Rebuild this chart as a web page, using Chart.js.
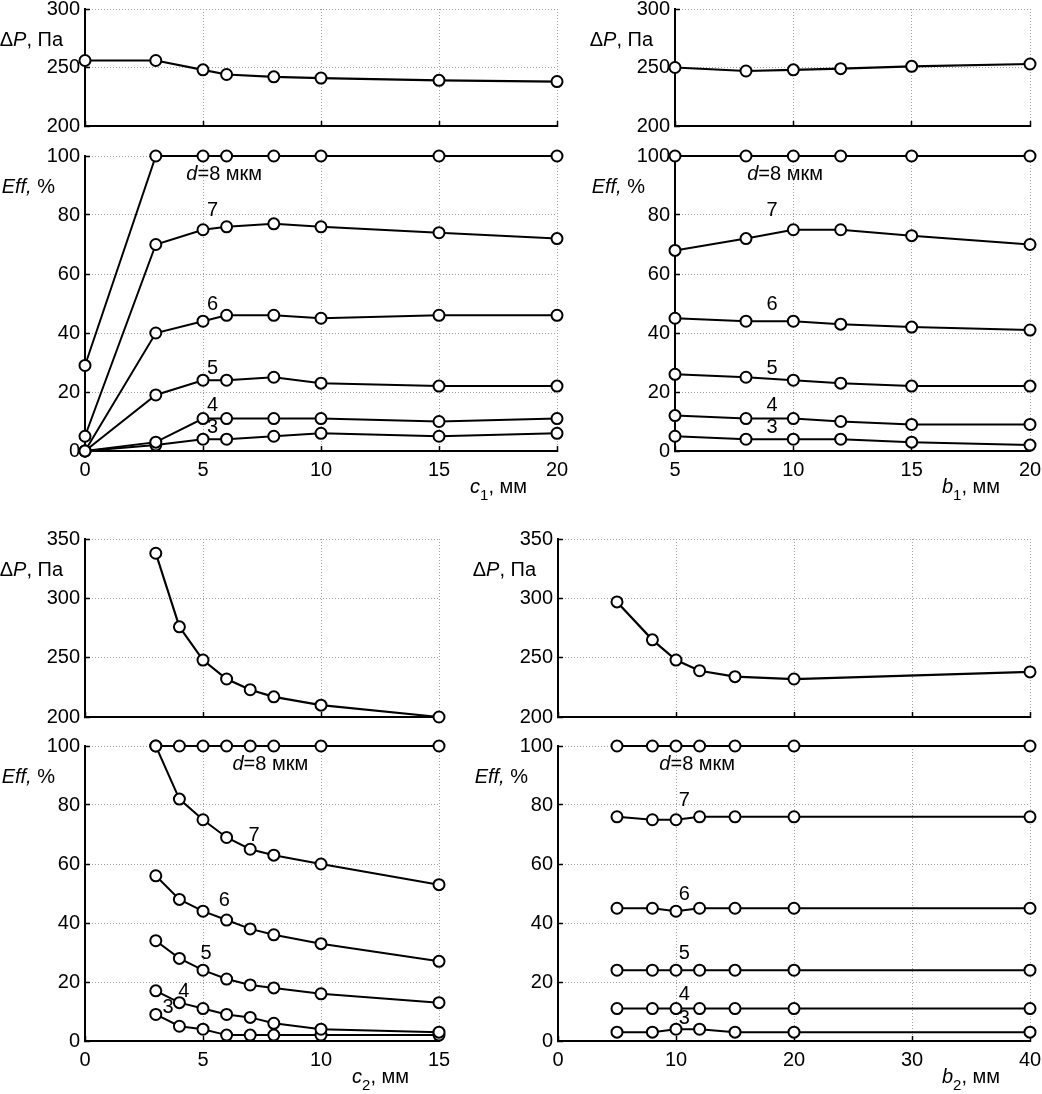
<!DOCTYPE html>
<html>
<head>
<meta charset="utf-8">
<script src="https://cdn.jsdelivr.net/npm/chart.js@4.4.1/dist/chart.umd.min.js"></script>
<style>
  html, body { margin: 0; padding: 0; background: #fff; }
  body { position: relative; width: 1042px; height: 1094px; overflow: hidden; }
  canvas { position: absolute; }
</style>
</head>
<body>
<canvas id="dp1"></canvas>
<canvas id="eff1"></canvas>
<canvas id="dp2"></canvas>
<canvas id="eff2"></canvas>
<canvas id="dp3"></canvas>
<canvas id="eff3"></canvas>
<canvas id="dp4"></canvas>
<canvas id="eff4"></canvas>
<script>
// --- data ---
const sizes = [8, 7, 6, 5, 4, 3];   // particle size d, мкм (one Eff curve each)

const c1 = [0, 3, 5, 6, 8, 10, 15, 20];
const dpC1 = [256, 256, 248, 244, 242, 241, 239, 238];
const effC1_8 = [29, 100, 100, 100, 100, 100, 100, 100];
const effC1_7 = [5, 70, 75, 76, 77, 76, 74, 72];
const effC1_6 = [0, 40, 44, 46, 46, 45, 46, 46];
const effC1_5 = [0, 19, 24, 24, 25, 23, 22, 22];
const effC1_4 = [0, 3, 11, 11, 11, 11, 10, 11];
const effC1_3 = [0, 2, 4, 4, 5, 6, 5, 6];

const b1 = [5, 8, 10, 12, 15, 20];
const dpB1 = [250, 247, 248, 249, 251, 253];
const effB1_8 = [100, 100, 100, 100, 100, 100];
const effB1_7 = [68, 72, 75, 75, 73, 70];
const effB1_6 = [45, 44, 44, 43, 42, 41];
const effB1_5 = [26, 25, 24, 23, 22, 22];
const effB1_4 = [12, 11, 11, 10, 9, 9];
const effB1_3 = [5, 4, 4, 4, 3, 2];

const c2 = [3, 4, 5, 6, 7, 8, 10, 15];
const dpC2 = [338, 276, 248, 232, 223, 217, 210, 200];
const effC2_8 = [100, 100, 100, 100, 100, 100, 100, 100];
const effC2_7 = [100, 82, 75, 69, 65, 63, 60, 53];
const effC2_6 = [56, 48, 44, 41, 38, 36, 33, 27];
const effC2_5 = [34, 28, 24, 21, 19, 18, 16, 13];
const effC2_4 = [17, 13, 11, 9, 8, 6, 4, 3];
const effC2_3 = [9, 5, 4, 2, 2, 2, 2, 2];

const b2 = [5, 8, 10, 12, 15, 20, 40];
const dpB2 = [297, 265, 248, 239, 234, 232, 238];
const effB2_8 = [100, 100, 100, 100, 100, 100, 100];
const effB2_7 = [76, 75, 75, 76, 76, 76, 76];
const effB2_6 = [45, 45, 44, 45, 45, 45, 45];
const effB2_5 = [24, 24, 24, 24, 24, 24, 24];
const effB2_4 = [11, 11, 11, 11, 11, 11, 11];
const effB2_3 = [3, 3, 4, 4, 3, 3, 3];

// tick labels
const ticksC1 = [0, 5, 10, 15, 20];
const ticksB1 = [5, 10, 15, 20];
const ticksC2 = [0, 5, 10, 15];
const ticksB2 = [0, 10, 20, 30, 40];
const ticksDpTop = [200, 250, 300];
const ticksDpBottom = [200, 250, 300, 350];
const ticksEff = [0, 20, 40, 60, 80, 100];

// --- layout ---
const FONT = '"Liberation Sans", Arial, sans-serif';
const FS = 20;
// y tick labels need ~22px above/below the plot area, so keep the margins bigger than that
const PAD_T = 26, PAD_R = 24, Y_W = 92;

// rich text: segments {t, it, sub}
function drawRich(ctx, segs, x, y, align) {
  const fontOf = s => (s.it ? 'italic ' : '') + (s.sub ? 15 : FS) + 'px ' + FONT;
  const widths = segs.map(s => { ctx.font = fontOf(s); return ctx.measureText(s.t).width; });
  const w = widths.reduce((a, b) => a + b, 0);
  let cx = align === 'right' ? x - w : x - w / 2;
  ctx.save();
  ctx.fillStyle = '#000';
  ctx.textBaseline = 'middle';
  ctx.textAlign = 'left';
  segs.forEach((s, i) => {
    ctx.font = fontOf(s);
    ctx.fillText(s.t, cx, y + (s.sub ? 9 : 0));
    cx += widths[i];
  });
  ctx.restore();
}

// inline plugin per chart, so the label list is not run through option resolution
function textPlugin(items) {
  return {
    id: 'richText',
    afterDraw(chart) {
      const { ctx, chartArea, scales } = chart;
      items.forEach(it => {
        let x, y;
        if (it.at) {
          x = scales.x.getPixelForValue(it.at[0]);
          y = scales.y.getPixelForValue(it.at[1]);
        } else if (it.anchor === 'y') {
          x = chartArea.left - it.dx; y = chartArea.top + it.dy;
        } else {
          x = chartArea.right - it.dx; y = chartArea.bottom + it.dy;
        }
        drawRich(ctx, it.segs, x, y, it.align || 'center');
      });
    }
  };
}

const dpTitle = { anchor: 'y', dx: 22, dy: 31, align: 'right', segs: [{ t: 'Δ' }, { t: 'P', it: true }, { t: ', Па' }] };
const effTitle = { anchor: 'y', dx: 30, dy: 31, align: 'right', segs: [{ t: 'Eff,', it: true }, { t: ' %' }] };
const xTitle = (letter, idx) => ({ anchor: 'x', dx: 30, dy: 36, align: 'right',
  segs: [{ t: letter, it: true }, { t: idx, sub: true }, { t: ', мм' }] });

function curveLabels(pos) {
  return sizes.map((d, i) => ({
    at: pos[i],
    segs: i === 0 ? [{ t: 'd', it: true }, { t: '=' + d + ' мкм' }] : [{ t: String(d) }]
  }));
}

function axis(ticks, showLabels) {
  return {
    type: 'linear',
    min: ticks[0],
    max: ticks[ticks.length - 1],
    afterBuildTicks: s => { s.ticks = ticks.map(v => ({ value: v })); },
    grid: { color: '#a0a0a0', lineWidth: 1, drawTicks: true, tickLength: -5, tickColor: '#000', tickWidth: 1.5 },
    border: { display: true, color: '#000', width: 2, dash: [1, 2] },
    ticks: { display: showLabels, color: '#000', font: { family: FONT, size: FS }, padding: 12, maxRotation: 0, autoSkip: false }
  };
}

function makeChart(id, rect, xs, series, xTicks, yTicks, showX, lineW, items) {
  const xH = showX ? 56 : 26;
  const cv = document.getElementById(id);
  const w = (rect.r - rect.l) + Y_W + PAD_R;
  const h = (rect.b - rect.t) + PAD_T + xH;
  cv.width = w; cv.height = h;
  cv.style.left = (rect.l - Y_W) + 'px';
  cv.style.top = (rect.t - PAD_T) + 'px';
  const xAxis = axis(xTicks, showX);
  xAxis.afterFit = s => { s.height = xH; };
  const yAxis = axis(yTicks, true);
  yAxis.ticks.padding = 10;
  yAxis.afterFit = s => { s.width = Y_W; };
  return new Chart(cv, {
    type: 'line',
    data: {
      datasets: series.map(vals => ({
        data: xs.map((x, i) => ({ x: x, y: vals[i] })),
        borderColor: '#000',
        borderWidth: lineW,
        pointRadius: 5.5,
        pointBorderWidth: 2,
        pointBackgroundColor: '#fff',
        pointBorderColor: '#000',
        tension: 0,
        clip: 10
      }))
    },
    options: {
      responsive: false,
      animation: false,
      events: [],
      layout: { autoPadding: false, padding: { top: PAD_T, right: PAD_R, left: 0, bottom: 0 } },
      plugins: { legend: { display: false }, tooltip: { enabled: false } },
      scales: { x: xAxis, y: yAxis }
    },
    plugins: [textPlugin(items)]
  });
}

// panel 1 : c1
makeChart('dp1', { l: 85, t: 9, r: 557, b: 126 }, c1, [dpC1], ticksC1, ticksDpTop, false, 2.2, [dpTitle]);
makeChart('eff1', { l: 85, t: 156, r: 557, b: 451 }, c1,
  [effC1_8, effC1_7, effC1_6, effC1_5, effC1_4, effC1_3], ticksC1, ticksEff, true, 2,
  [effTitle, xTitle('c', '1')].concat(curveLabels([[5.9, 93.9], [5.4, 81.4], [5.4, 49.6], [5.4, 28.1], [5.4, 15.3], [5.4, 7.9]])));

// panel 2 : b1
makeChart('dp2', { l: 675, t: 9, r: 1030, b: 126 }, b1, [dpB1], ticksB1, ticksDpTop, false, 2.2, [dpTitle]);
makeChart('eff2', { l: 675, t: 156, r: 1030, b: 451 }, b1,
  [effB1_8, effB1_7, effB1_6, effB1_5, effB1_4, effB1_3], ticksB1, ticksEff, true, 2,
  [effTitle, xTitle('b', '1')].concat(curveLabels([[9.65, 93.9], [9.1, 81.4], [9.1, 49.6], [9.1, 28.1], [9.1, 15.3], [9.1, 7.9]])));

// panel 3 : c2
makeChart('dp3', { l: 85, t: 539, r: 439, b: 717 }, c2, [dpC2], ticksC2, ticksDpBottom, false, 2.2, [dpTitle]);
makeChart('eff3', { l: 85, t: 746, r: 439, b: 1041 }, c2,
  [effC2_8, effC2_7, effC2_6, effC2_5, effC2_4, effC2_3], ticksC2, ticksEff, true, 2,
  [effTitle, xTitle('c', '2')].concat(curveLabels([[7.85, 93.9], [7.16, 69.8], [5.9, 47.5], [5.13, 29.8], [4.19, 16.9], [3.52, 11.2]])));

// panel 4 : b2
makeChart('dp4', { l: 558, t: 539, r: 1030, b: 717 }, b2, [dpB2], ticksB2, ticksDpBottom, false, 2.2, [dpTitle]);
makeChart('eff4', { l: 558, t: 746, r: 1030, b: 1041 }, b2,
  [effB2_8, effB2_7, effB2_6, effB2_5, effB2_4, effB2_3], ticksB2, ticksEff, true, 2,
  [effTitle, xTitle('b', '2')].concat(curveLabels([[11.8, 93.9], [10.7, 81.4], [10.7, 49.8], [10.7, 29.5], [10.7, 15.6], [10.7, 7.8]])));
</script>
</body>
</html>
